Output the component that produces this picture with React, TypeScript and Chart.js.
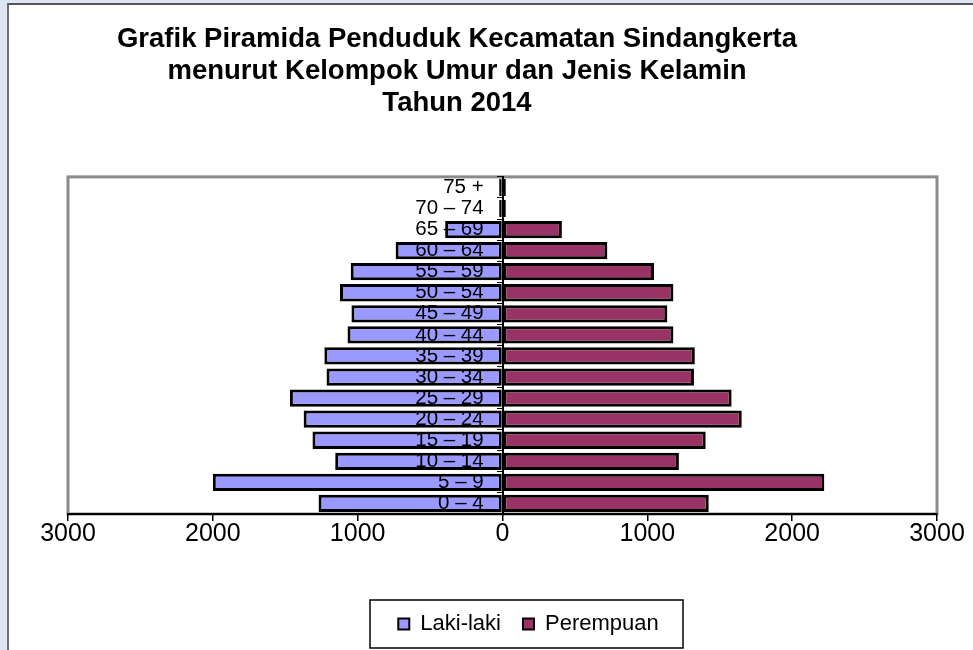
import React, { useEffect, useRef } from 'react';
import { Chart, registerables } from 'chart.js';

Chart.register(...registerables);

// Kelompok umur (bawah ke atas)
const kelompokUmur = [
  '0 – 4', '5 – 9', '10 – 14', '15 – 19', '20 – 24', '25 – 29', '30 – 34', '35 – 39',
  '40 – 44', '45 – 49', '50 – 54', '55 – 59', '60 – 64', '65 – 69', '70 – 74', '75 +',
];
const lakiLaki = [1270, 2000, 1155, 1312, 1373, 1468, 1215, 1230, 1070, 1043, 1122, 1048, 738, 396, 23, 23];
const perempuan = [1424, 2222, 1218, 1403, 1652, 1582, 1322, 1328, 1180, 1138, 1180, 1046, 724, 410, 23, 23];
const judul = [
  'Grafik Piramida Penduduk Kecamatan Sindangkerta',
  'menurut Kelompok Umur dan Jenis Kelamin',
  'Tahun 2014',
];
const seriesNames = ['Laki-laki', 'Perempuan'];
const axisMin = -3000;
const axisMax = 3000;
const axisStep = 1000;
// nilai x tempat label kelompok umur berakhir (sedikit di kiri garis nol)
const labelAnchor = -130;

const FONT = "'Liberation Sans', Arial, Helvetica, sans-serif";

export default function App() {
  const ref = useRef<HTMLCanvasElement>(null);

  useEffect(() => {
    const canvas = ref.current;
    if (!canvas) return;

    const shiftPlugin = {
      id: 'shiftBoxes',
      afterLayout(chart: any) {
        const t = chart.titleBlock;
        if (t) { t.left -= 45.5; t.right -= 45.5; }
        const l = chart.legend;
        if (l) { l.left += 26; l.right += 26; }
      },
    };

    const plotBorder = {
      id: 'plotBorder',
      beforeDraw(chart: any) {
        const { ctx, chartArea } = chart;
        ctx.save();
        ctx.strokeStyle = '#8a8a8a';
        ctx.lineWidth = 3;
        ctx.strokeRect(chartArea.left, chartArea.top, chartArea.right - chartArea.left, chartArea.bottom - chartArea.top);
        ctx.restore();
      },
      afterDraw(chart: any) {
        const l = chart.legend;
        if (!l) return;
        const { ctx } = chart;
        const pad = l.options.labels.padding;
        const fs = l.options.labels.font.size;
        const cy = l.top + pad + fs / 2;
        const cx = (l.left + l.right) / 2 - 2;
        ctx.save();
        ctx.strokeStyle = '#000';
        ctx.lineWidth = 1.5;
        ctx.strokeRect(cx - 156.5, cy - 24, 313, 48);
        ctx.restore();
      },
    };

    const chart = new Chart(canvas, {
      type: 'bar',
      data: {
        labels: kelompokUmur,
        datasets: [
          {
            label: seriesNames[0],
            data: lakiLaki.map((v) => -v),
            backgroundColor: '#9999FF',
            borderColor: '#000000',
            borderWidth: 3,
            borderSkipped: false,
            barPercentage: 0.82,
            categoryPercentage: 1,
          },
          {
            label: seriesNames[1],
            data: perempuan,
            backgroundColor: '#993366',
            borderColor: '#000000',
            borderWidth: 3,
            borderSkipped: false,
            barPercentage: 0.82,
            categoryPercentage: 1,
          },
        ],
      },
      plugins: [shiftPlugin, plotBorder],
      options: {
        indexAxis: 'y',
        responsive: false,
        maintainAspectRatio: false,
        devicePixelRatio: 1,
        animation: false,
        layout: { padding: { left: 59, right: 36, top: 0, bottom: 5 } },
        scales: {
          x: {
            type: 'linear',
            stacked: true,
            min: axisMin,
            max: axisMax,
            afterFit(scale: any) { scale.height = 77; },
            ticks: {
              stepSize: axisStep,
              color: '#000',
              padding: -2,
              font: { family: FONT, size: 25 },
              callback: (v: any) => String(Math.abs(Number(v))),
            },
            grid: {
              display: true,
              drawOnChartArea: false,
              drawTicks: true,
              tickLength: 7,
              color: '#000',
              lineWidth: 1.5,
            },
            border: { display: true, color: '#000', width: 2 },
          },
          y: {
            type: 'category',
            stacked: true,
            reverse: true,
            offset: true,
            position: { x: 0 } as any,
            ticks: { display: false, autoSkip: false } as any,
            grid: {
              display: true,
              offset: true,
              drawOnChartArea: false,
              drawTicks: true,
              tickLength: 5,
              color: '#000',
              lineWidth: 1,
              z: 1,
            } as any,
            border: { display: true, color: '#000', width: 2, z: 1 } as any,
          },
          yLabel: {
            type: 'category',
            axis: 'y',
            reverse: true,
            offset: true,
            position: { x: labelAnchor } as any,
            grid: { display: false },
            border: { display: false },
            ticks: {
              color: '#000',
              autoSkip: false,
              font: { family: FONT, size: 20.5 },
              z: 1,
            } as any,
          },
        },
        plugins: {
          title: {
            display: true,
            text: judul,
            color: '#000',
            font: { family: FONT, size: 27.5, weight: 'bold', lineHeight: 1.15 },
            padding: { top: 19, bottom: 58 },
          },
          legend: {
            display: true,
            position: 'bottom',
            labels: {
              color: '#000',
              boxWidth: 11,
              boxHeight: 11,
              padding: 22,
              font: { family: FONT, size: 22 },
              generateLabels: (ch: any) =>
                Chart.defaults.plugins.legend.labels.generateLabels(ch).map((it: any) => ({ ...it, lineWidth: 2 })),
            },
          },
          tooltip: { enabled: false },
        },
      },
    } as any);

    return () => chart.destroy();
  }, []);

  return (
    <div style={{ position: 'fixed', left: 0, top: 0, width: 973, height: 650, background: '#dee6f1', overflow: 'hidden' }}>
      <div
        style={{
          position: 'absolute', left: 7, top: 3, width: 1000, height: 700, background: '#ffffff',
          borderLeft: '2px solid #6e6e6e', borderTop: '2px solid #555555',
        }}
      />
      <canvas ref={ref} width={964} height={645} style={{ position: 'absolute', left: 9, top: 5, width: 964, height: 645 }} />
    </div>
  );
}
